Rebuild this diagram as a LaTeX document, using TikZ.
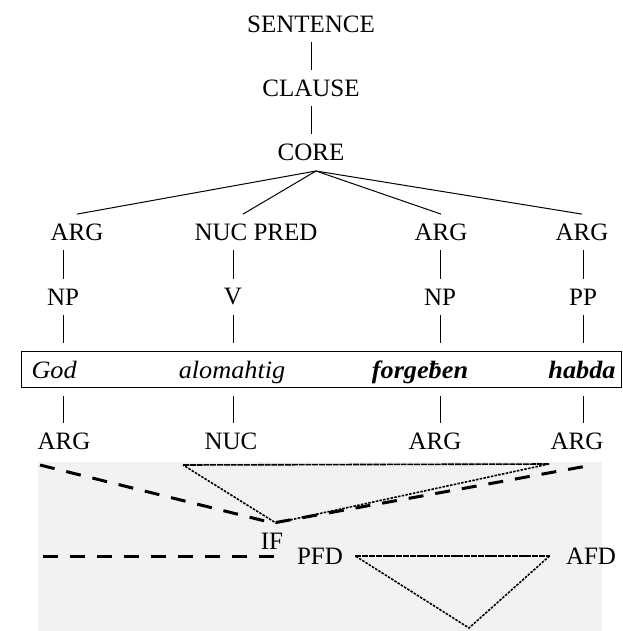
\documentclass[tikz,border=0pt]{standalone}
\usepackage{fontspec}
\setmainfont{Liberation Serif}
\newfontfamily\wordfont[FakeStretch=1.05]{Liberation Serif}
\usetikzlibrary{positioning}
\tikzset{lbl/.style = {inner xsep=1pt, inner ysep=9pt,
                       font=\fontsize{25}{29}\selectfont}}
\tikzset{word/.style = {inner sep=0pt, anchor=base,
                        font=\fontsize{25}{29}\selectfont\wordfont\itshape}}
\tikzset{bigdash/.style = {line width=3pt, dash pattern=on 15pt off 12pt}}
\tikzset{smalldash/.style = {line width=1.6pt,
                             dash pattern=on 2.5pt off 1.3pt}}
\tikzset{densedash/.style = {line width=1.6pt,
                             dash pattern=on 6pt off 0.8pt}}
\tikzset{
  every picture/.style={
    every path/.style={line width=1pt},
  }
}

\begin{document}
\begin{tikzpicture}[x=1pt,y=-1pt]
      \useasboundingbox (0,0) rectangle (622,631);
      \fill[black!5] (38,462) rectangle (602,631);
      % tree above the words
      \node[lbl] (sent) at (311,24) {SENTENCE};
      \node[lbl] (clause) at (311,88) {CLAUSE};
      \node[lbl] (core) at (311,152) {CORE};
      \coordinate (corefork) at (316,171);
      \node[lbl] (argA) at (77,232) {ARG};
      \node[lbl] (nucpred) at (256,232) {NUC PRED};
      \node[lbl] (argB) at (441,232) {ARG};
      \node[lbl] (argC) at (582,232) {ARG};
      \node[lbl] (npA) at (63,297) {NP};
      \node[lbl] (verb) at (233,297) {V};
      \node[lbl] (npB) at (440,297) {NP};
      \node[lbl] (pp) at (583,297) {PP};
      \draw (sent) -- (clause);
      \draw (clause) -- (core);
      \draw (corefork) -- (argA.north);
      \draw (corefork) -- ([xshift=-13pt]nucpred.north);
      \draw (corefork) -- (argB.north);
      \draw (corefork) -- (argC.north);
      \draw (npA |- argA.south) -- (npA.north);
      \draw (verb |- nucpred.south) -- (verb.north);
      \draw (npB |- argB.south) -- (npB.north);
      \draw (pp |- argC.south) -- (pp.north);
      % the words
      \node[draw, inner sep=0pt, anchor=north west, minimum width=599.5pt,
        minimum height=36pt] (wordbox) at (21,351) {};
      \node[word, anchor=base west] (god) at (31,378) {God};
      \node[word] (alom) at (232,378) {alomahtig};
      \node[word, font=\fontsize{25}{29}\selectfont\wordfont\bfseries\itshape]
        (forg) at (420,378) {forgeƀen};
      \node[word, font=\fontsize{25}{29}\selectfont\wordfont\bfseries\itshape]
        (habda) at (582,378) {habda};
      \draw[shorten >=8pt] (npA.south) -- (npA.south |- wordbox.north);
      \draw[shorten >=8pt] (verb.south) -- (verb.south |- wordbox.north);
      \draw[shorten >=8pt] (npB.south) -- (npB.south |- wordbox.north);
      \draw[shorten >=8pt] (pp.south) -- (pp.south |- wordbox.north);
      % functions below the words
      \node[lbl] (argD) at (64,441) {ARG};
      \node[lbl] (nuc) at (231,441) {NUC};
      \node[lbl] (argE) at (435,441) {ARG};
      \node[lbl] (argF) at (577,441) {ARG};
      \draw[shorten <=8pt] (wordbox.south -| npA) -- (npA |- argD.north);
      \draw[shorten <=8pt] (wordbox.south -| verb) -- (verb |- nuc.north);
      \draw[shorten <=8pt] (wordbox.south -| npB) -- (npB |- argE.north);
      \draw[shorten <=8pt] (wordbox.south -| pp) -- (pp |- argF.north);
      % focus domains
      \node[lbl, inner sep=0pt] (if) at (272,541) {IF};
      \node[lbl, inner sep=0pt] (pfd) at (320,556) {PFD};
      \node[lbl, inner sep=0pt] (afd) at (591,556) {AFD};
      \coordinate (vleft) at (40,465);
      \coordinate (vright) at (587,466);
      \coordinate (vtip) at (273,523);
      \coordinate (triL) at (183,465);
      \coordinate (triR) at (549,464);
      \coordinate (tritip) at (276,523);
      \coordinate (hleft) at (43,556);
      \coordinate (lowtip) at (469,628);
      \coordinate (lowL) at ([xshift=12pt]pfd.east);
      \coordinate (lowR) at ([xshift=-16pt]afd.west);
      \draw[bigdash] (vleft) -- (vtip) -- (vright);
      \draw[densedash] (triL) -- (triR);
      \draw[smalldash] (triR) -- (tritip) -- (triL);
      \draw[bigdash, shorten >=17pt] (hleft) -- (pfd.west);
      \draw[densedash] (lowL) -- (lowR);
      \draw[smalldash] (lowR) -- (lowtip) -- (lowL);
    \end{tikzpicture}
\end{document}
